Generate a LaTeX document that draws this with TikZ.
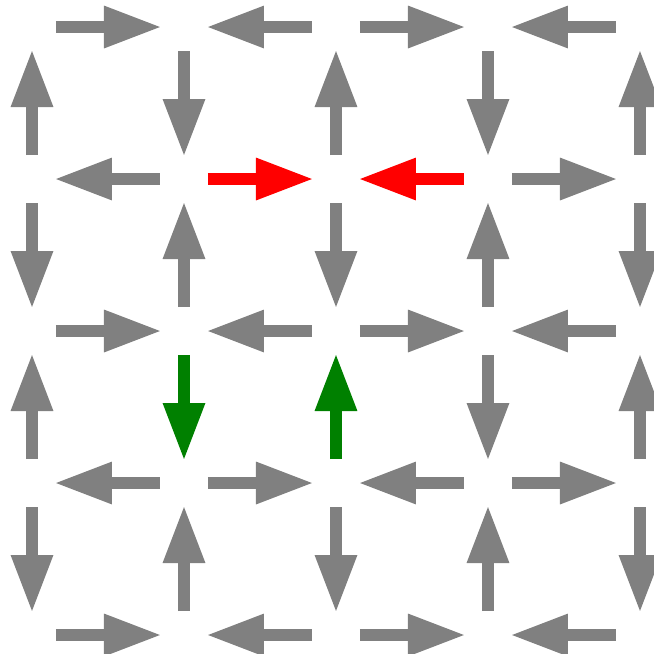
\documentclass[tikz,border=0pt]{standalone}
\usepackage{xcolor}
\usepackage{tikz}
\usetikzlibrary{arrows.meta}
\definecolor{spingray}{RGB}{128, 128, 128}
\definecolor{spinred}{RGB}{255, 0, 0}
\definecolor{spingreen}{RGB}{0, 128, 0}

\begin{document}
\begin{tikzpicture}[
    spin/.style={line width=1.2mm, color=spingray, shorten <=2.4mm, shorten >=2.2mm,
      -{Triangle[length=5.8mm, width=3.9mm]}},
    redspin/.style={spin, color=spinred},
    greenspin/.style={spin, color=spingreen}]

    \clip (-0.32,0.27) rectangle (6.22,-6.27);

    % Lattice vertices
    \foreach \r in {0,...,4}
      \foreach \c in {0,...,4}
        \coordinate (v\c\r) at (\c*1.52, -\r*1.52);

    % Horizontal spins
    \foreach \r in {0,...,4} {
      \foreach \c [evaluate=\c as \n using int(\c+1)] in {0,...,3} {
        \pgfmathtruncatemacro{\s}{mod(\r+\c,2)}
        \ifnum\r\c=11 \else \ifnum\r\c=12 \else
          \ifnum\s=0 \draw[spin] (v\c\r) -- (v\n\r); \else \draw[spin] (v\n\r) -- (v\c\r); \fi
        \fi \fi
      }
    }

    % Vertical spins
    \foreach \r [evaluate=\r as \n using int(\r+1)] in {0,...,3} {
      \foreach \c in {0,...,4} {
        \pgfmathtruncatemacro{\s}{mod(\r+\c,2)}
        \ifnum\r\c=21 \else \ifnum\r\c=22 \else
          \ifnum\s=0 \draw[spin] (v\c\n) -- (v\c\r); \else \draw[spin] (v\c\r) -- (v\c\n); \fi
        \fi \fi
      }
    }

    % Highlighted spins
    \draw[redspin] (v11) -- (v21);
    \draw[redspin] (v31) -- (v21);
    \draw[greenspin] (v12) -- (v13);
    \draw[greenspin] (v23) -- (v22);
\end{tikzpicture}
\end{document}
